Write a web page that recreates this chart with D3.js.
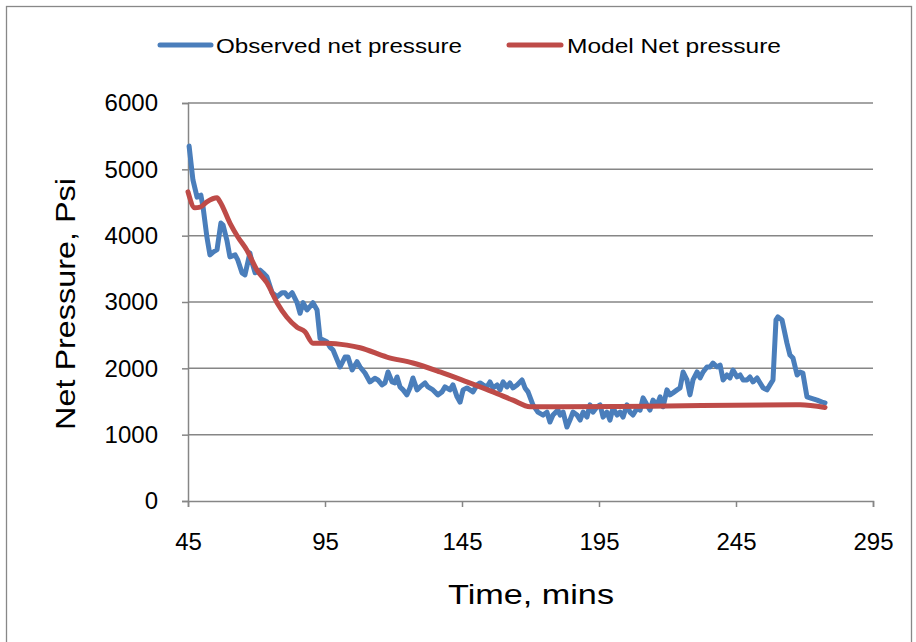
<!DOCTYPE html>
<html>
<head>
<meta charset="utf-8">
<script src="https://cdn.jsdelivr.net/npm/d3@7"></script>
<style>
  html, body { margin: 0; padding: 0; background: #fff; }
  svg { display: block; }
  text { font-family: "Liberation Sans", "Noto Sans", Arial, sans-serif; fill: #000; }
</style>
</head>
<body>
<svg id="chart" width="916" height="642"></svg>
<script>
// Observed net pressure (time in minutes, pressure in psi)
const obsTime = [45.4, 46.8, 48.3, 49.7, 50.5, 51.9, 53.0, 54.1, 55.6, 57.0, 57.8, 59.2, 60.3, 62.2, 63.2, 64.7, 65.8, 67.6, 68.4, 69.5,
  71.3, 72.4, 73.8, 75.7, 77.5, 79.3, 80.4, 81.5, 83.0, 84.8, 85.9, 87.0, 88.4, 89.5, 90.6, 92.1, 93.2, 95.7, 96.8, 97.9,
  99.4, 100.5, 102.3, 103.4, 104.9, 106.7, 107.8, 109.6, 111.4, 113.2, 114.3, 115.8, 116.9, 118.0, 119.5, 120.5, 121.3, 122.4, 123.5, 124.9,
  126.0, 127.1, 128.6, 129.7, 131.5, 132.6, 134.4, 136.2, 137.7, 138.8, 140.6, 141.7, 143.2, 144.3, 145.4, 146.8, 147.9, 149.0, 150.5, 151.6,
  152.7, 154.1, 155.2, 156.3, 157.8, 158.9, 160.0, 161.4, 162.5, 163.6, 165.1, 166.9, 168.0, 169.1, 170.9, 172.7, 174.6, 176.0, 177.1, 178.2,
  180.0, 180.8, 181.9, 183.3, 184.4, 185.5, 187.0, 188.1, 189.2, 190.6, 191.7, 192.8, 194.3, 195.4, 196.5, 197.9, 199.0, 200.1, 201.6, 202.7,
  203.8, 205.2, 206.3, 207.4, 208.9, 210.0, 211.1, 212.5, 213.6, 214.7, 216.2, 217.3, 218.4, 219.8, 220.9, 222.0, 223.5, 224.6, 225.7, 227.1,
  228.2, 229.3, 230.8, 231.9, 233.0, 234.4, 235.5, 236.6, 238.1, 239.2, 240.3, 241.7, 242.8, 243.9, 245.4, 246.5, 247.6, 249.0, 250.1, 251.2,
  252.7, 253.8, 254.9, 256.3, 257.4, 258.5, 259.6, 260.3, 261.8, 263.6, 264.7, 265.8, 267.3, 268.4, 269.4, 270.9, 272.0, 274.6, 276.4, 277.5];
const obsPressure = [5350, 4840, 4580, 4610, 4430, 3980, 3710, 3750, 3790, 4190, 4160, 3930, 3680, 3710, 3630, 3440, 3410, 3740, 3590, 3440,
  3480, 3440, 3380, 3140, 3080, 3140, 3140, 3080, 3140, 2990, 2830, 2990, 2880, 2930, 2990, 2880, 2450, 2400, 2320, 2280,
  2130, 2020, 2170, 2170, 1975, 2100, 2020, 1930, 1795, 1850, 1825, 1750, 1780, 1945, 1795, 1780, 1870, 1720, 1675, 1600,
  1705, 1855, 1675, 1720, 1780, 1720, 1675, 1600, 1645, 1720, 1675, 1750, 1570, 1490, 1675, 1705, 1675, 1645, 1750, 1780,
  1750, 1720, 1795, 1705, 1750, 1675, 1795, 1720, 1780, 1705, 1750, 1825, 1705, 1645, 1450, 1340, 1295, 1340, 1190, 1295,
  1370, 1295, 1340, 1115, 1220, 1340, 1295, 1220, 1340, 1265, 1450, 1340, 1420, 1450, 1265, 1340, 1220, 1400, 1295, 1340,
  1265, 1450, 1340, 1295, 1400, 1370, 1555, 1450, 1370, 1520, 1450, 1570, 1420, 1675, 1600, 1630, 1675, 1705, 1945, 1825,
  1600, 1825, 1945, 1855, 1945, 2020, 2020, 2080, 2020, 2050, 1825, 1900, 1855, 1975, 1870, 1900, 1825, 1825, 1870, 1795,
  1855, 1780, 1705, 1675, 1750, 1825, 2730, 2775, 2730, 2380, 2200, 2155, 1900, 1945, 1930, 1570, 1555, 1520, 1490, 1480];

// Model net pressure
const modelTime = [45.0, 47.5, 49.4, 51.9, 55.6, 56.7, 60.3, 63.2, 66.5, 70.2, 73.8, 77.5, 81.1, 84.8, 87.7, 90.6, 95.7, 103.0,
  107.8, 117.6, 127.1, 137.0, 146.8, 156.3, 163.6, 169.8, 180.8, 213.6, 268.4, 277.5];
const modelPressure = [4660, 4420, 4430, 4510, 4570, 4510, 4190, 3980, 3780, 3480, 3290, 2990, 2770, 2620, 2550, 2380, 2380, 2350,
  2310, 2170, 2080, 1945, 1795, 1645, 1520, 1420, 1420, 1430, 1450, 1410];

const xTicks = [45, 95, 145, 195, 245, 295];
const yTicks = [0, 1000, 2000, 3000, 4000, 5000, 6000];

const seriesNames = ["Observed net pressure", "Model Net pressure"];
const seriesColors = ["#4a7ebb", "#be4b48"];

const svg = d3.select("#chart");
const plot = { left: 188, right: 873, top: 103, bottom: 501 };
const gridColor = "#868686";

const x = d3.scaleLinear().domain([45, 295]).range([plot.left, plot.right]);
const y = d3.scaleLinear().domain([0, 6000]).range([plot.bottom, plot.top]);

// outer chart border
svg.append("rect")
  .attr("x", 6.5).attr("y", 6.5).attr("width", 905).attr("height", 640)
  .attr("fill", "none").attr("stroke", "#888").attr("stroke-width", 1.3);

// horizontal gridlines
svg.append("g").selectAll("line").data(yTicks.filter(d => d > 0)).join("line")
  .attr("x1", plot.left).attr("x2", plot.right)
  .attr("y1", d => y(d)).attr("y2", d => y(d))
  .attr("stroke", gridColor).attr("stroke-width", 1.5);

// y axis
const yAxis = svg.append("g").attr("transform", `translate(${plot.left},0)`)
  .call(d3.axisLeft(y).tickValues(yTicks).tickSize(6).tickPadding(24).tickFormat(d3.format("d")));
yAxis.select(".domain").attr("stroke", gridColor).attr("stroke-width", 1.5);
yAxis.selectAll(".tick line").attr("stroke", gridColor).attr("stroke-width", 1.5);
yAxis.selectAll(".tick text").attr("font-size", 24).attr("fill", "#000")
  .style("font-family", "'Liberation Sans', 'Noto Sans', sans-serif");

// x axis
const xAxis = svg.append("g").attr("transform", `translate(0,${plot.bottom})`)
  .call(d3.axisBottom(x).tickValues(xTicks).tickSize(6).tickPadding(26).tickFormat(d3.format("d")));
xAxis.select(".domain").attr("stroke", gridColor).attr("stroke-width", 1.5);
xAxis.selectAll(".tick line").attr("stroke", gridColor).attr("stroke-width", 1.5);
xAxis.selectAll(".tick text").attr("font-size", 24).attr("fill", "#000")
  .style("font-family", "'Liberation Sans', 'Noto Sans', sans-serif");

// series lines
const obsLine = d3.line().x(d => x(d[0])).y(d => y(d[1]));
const modelLine = d3.line().x(d => x(d[0])).y(d => y(d[1])).curve(d3.curveMonotoneX);
const obs = obsTime.map((t, i) => [t, obsPressure[i]]);
const model = modelTime.map((t, i) => [t, modelPressure[i]]);

svg.append("path").datum(obs)
  .attr("d", obsLine).attr("fill", "none")
  .attr("stroke", seriesColors[0]).attr("stroke-width", 5)
  .attr("stroke-linejoin", "round").attr("stroke-linecap", "round");

svg.append("path").datum(model)
  .attr("d", modelLine).attr("fill", "none")
  .attr("stroke", seriesColors[1]).attr("stroke-width", 5)
  .attr("stroke-linejoin", "round").attr("stroke-linecap", "round");

// axis titles
svg.append("text")
  .attr("x", 531).attr("y", 604).attr("text-anchor", "middle")
  .attr("font-size", 28)
  .attr("textLength", 166).attr("lengthAdjust", "spacingAndGlyphs")
  .text("Time, mins");

svg.append("text")
  .attr("transform", "translate(75,304) rotate(-90)")
  .attr("text-anchor", "middle")
  .attr("font-size", 28)
  .attr("textLength", 252).attr("lengthAdjust", "spacingAndGlyphs")
  .text("Net Pressure, Psi");

// legend
const legendItems = [
  { x1: 160, x2: 211, tx: 216, tw: 246 },
  { x1: 509, x2: 561, tx: 567, tw: 214 }
];
const legend = svg.append("g");
legendItems.forEach((it, i) => {
  legend.append("line")
    .attr("x1", it.x1).attr("x2", it.x2).attr("y1", 45).attr("y2", 45)
    .attr("stroke", seriesColors[i]).attr("stroke-width", 5).attr("stroke-linecap", "round");
  legend.append("text")
    .attr("x", it.tx).attr("y", 53)
    .attr("font-size", 21)
    .attr("textLength", it.tw).attr("lengthAdjust", "spacingAndGlyphs")
    .text(seriesNames[i]);
});
</script>
</body>
</html>
